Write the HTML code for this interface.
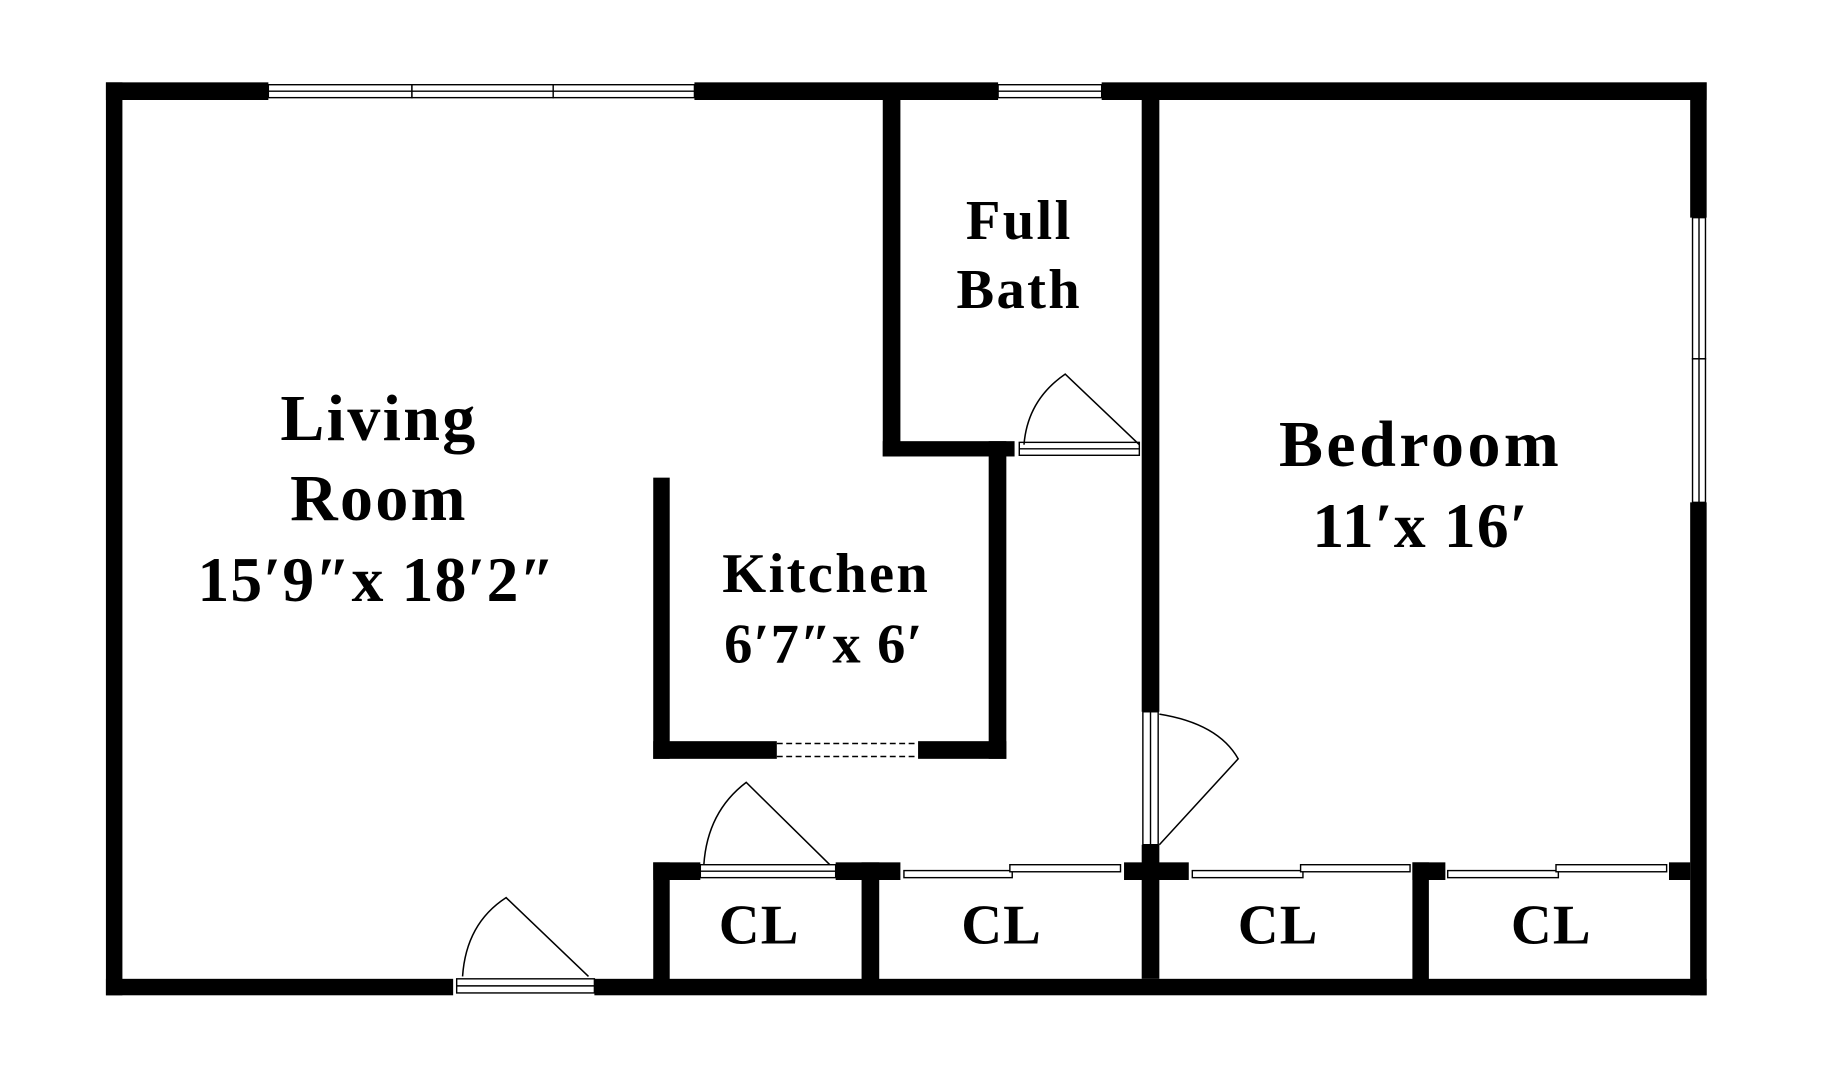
<!DOCTYPE html>
<html><head><style>html,body{margin:0;padding:0;background:#fff}svg{display:block}</style></head>
<body>
<svg width="1822" height="1080" viewBox="0 0 1548 918" preserveAspectRatio="none" xmlns="http://www.w3.org/2000/svg">
<rect width="1548" height="918" fill="#fff"/>
<g fill="#000">
<rect x="90" y="70" width="138" height="15"/>
<rect x="590" y="70" width="258" height="15"/>
<rect x="936" y="70" width="514" height="15"/>
<rect x="90" y="70" width="14" height="776"/>
<rect x="1436" y="70" width="14" height="115"/>
<rect x="1436" y="427" width="14" height="419"/>
<rect x="90" y="832" width="295" height="14"/>
<rect x="505" y="832" width="945" height="14"/>
<rect x="750" y="85" width="15" height="303"/>
<rect x="750" y="375" width="112" height="13"/>
<rect x="840" y="375" width="15" height="270"/>
<rect x="970" y="85" width="15" height="520"/>
<rect x="970" y="718" width="15" height="114"/>
<rect x="555" y="406" width="14" height="239"/>
<rect x="555" y="630" width="105" height="15"/>
<rect x="780" y="630" width="75" height="15"/>
<rect x="555" y="733" width="40" height="15"/>
<rect x="555" y="733" width="14" height="100"/>
<rect x="710" y="733" width="55" height="15"/>
<rect x="732" y="733" width="15" height="100"/>
<rect x="955" y="733" width="55" height="15"/>
<rect x="1200" y="733" width="28" height="15"/>
<rect x="1200" y="733" width="14" height="100"/>
<rect x="1418" y="733" width="18" height="15"/>
</g>
<g fill="#fff" stroke="#000" stroke-width="1.2">
<rect x="228" y="72" width="122" height="11"/><rect x="350" y="72" width="120" height="11"/><rect x="470" y="72" width="120" height="11"/>
<line x1="228" y1="77.5" x2="590" y2="77.5"/>
<rect x="848" y="72" width="88" height="11"/><line x1="848" y1="77.5" x2="936" y2="77.5"/>
<rect x="1438" y="185" width="11" height="120"/><rect x="1438" y="305" width="11" height="122"/>
<line x1="1443.5" y1="185" x2="1443.5" y2="427"/>
<rect x="866" y="376" width="102" height="11"/><line x1="866" y1="381.5" x2="968" y2="381.5"/>
<rect x="971" y="605" width="13" height="113"/><line x1="977.5" y1="605" x2="977.5" y2="718"/>
<rect x="595" y="735" width="115" height="11"/><line x1="595" y1="740.5" x2="710" y2="740.5"/>
<rect x="388" y="832" width="117" height="12"/><line x1="388" y1="838" x2="505" y2="838"/>
<rect x="768" y="740" width="92" height="6"/><rect x="858" y="735" width="94" height="6"/>
<rect x="1013" y="740" width="94" height="6"/><rect x="1105" y="735" width="93" height="6"/>
<rect x="1230" y="740" width="94" height="6"/><rect x="1322" y="735" width="94" height="6"/>
</g>
<g fill="none" stroke="#000" stroke-width="1.3">
<path d="M870 378 Q873 340 905 318 L968 378"/>
<path d="M985 607 Q1035 615 1052 645 L985 718"/>
<path d="M598 735 Q601 690 634 665 L705 735"/>
<path d="M393 830 Q396 785 430 763 L500 830"/>
<line x1="660" y1="632" x2="780" y2="632" stroke-dasharray="5,3"/>
<line x1="660" y1="643" x2="780" y2="643" stroke-dasharray="5,3"/>
</g>
<g font-family="'Liberation Serif',serif" font-weight="bold" text-anchor="middle" fill="#000">
<text x="322" y="374" font-size="56" letter-spacing="2">Living</text>
<text x="322" y="442" font-size="56" letter-spacing="2">Room</text>
<text x="320" y="511" font-size="54" letter-spacing="1">15′9″x 18′2″</text>
<text x="702" y="503" font-size="48" letter-spacing="2">Kitchen</text>
<text x="700" y="563" font-size="48" letter-spacing="1">6′7″x 6′</text>
<text x="866" y="203" font-size="48" letter-spacing="2">Full</text>
<text x="866" y="262" font-size="48" letter-spacing="2">Bath</text>
<text x="1207" y="396" font-size="56" letter-spacing="3">Bedroom</text>
<text x="1207" y="465" font-size="54" letter-spacing="1">11′x 16′</text>
<text x="645" y="802" font-size="48" letter-spacing="1">CL</text>
<text x="851" y="802" font-size="48" letter-spacing="1">CL</text>
<text x="1086" y="802" font-size="48" letter-spacing="1">CL</text>
<text x="1318" y="802" font-size="48" letter-spacing="1">CL</text>
</g>
</svg>
</body></html>
